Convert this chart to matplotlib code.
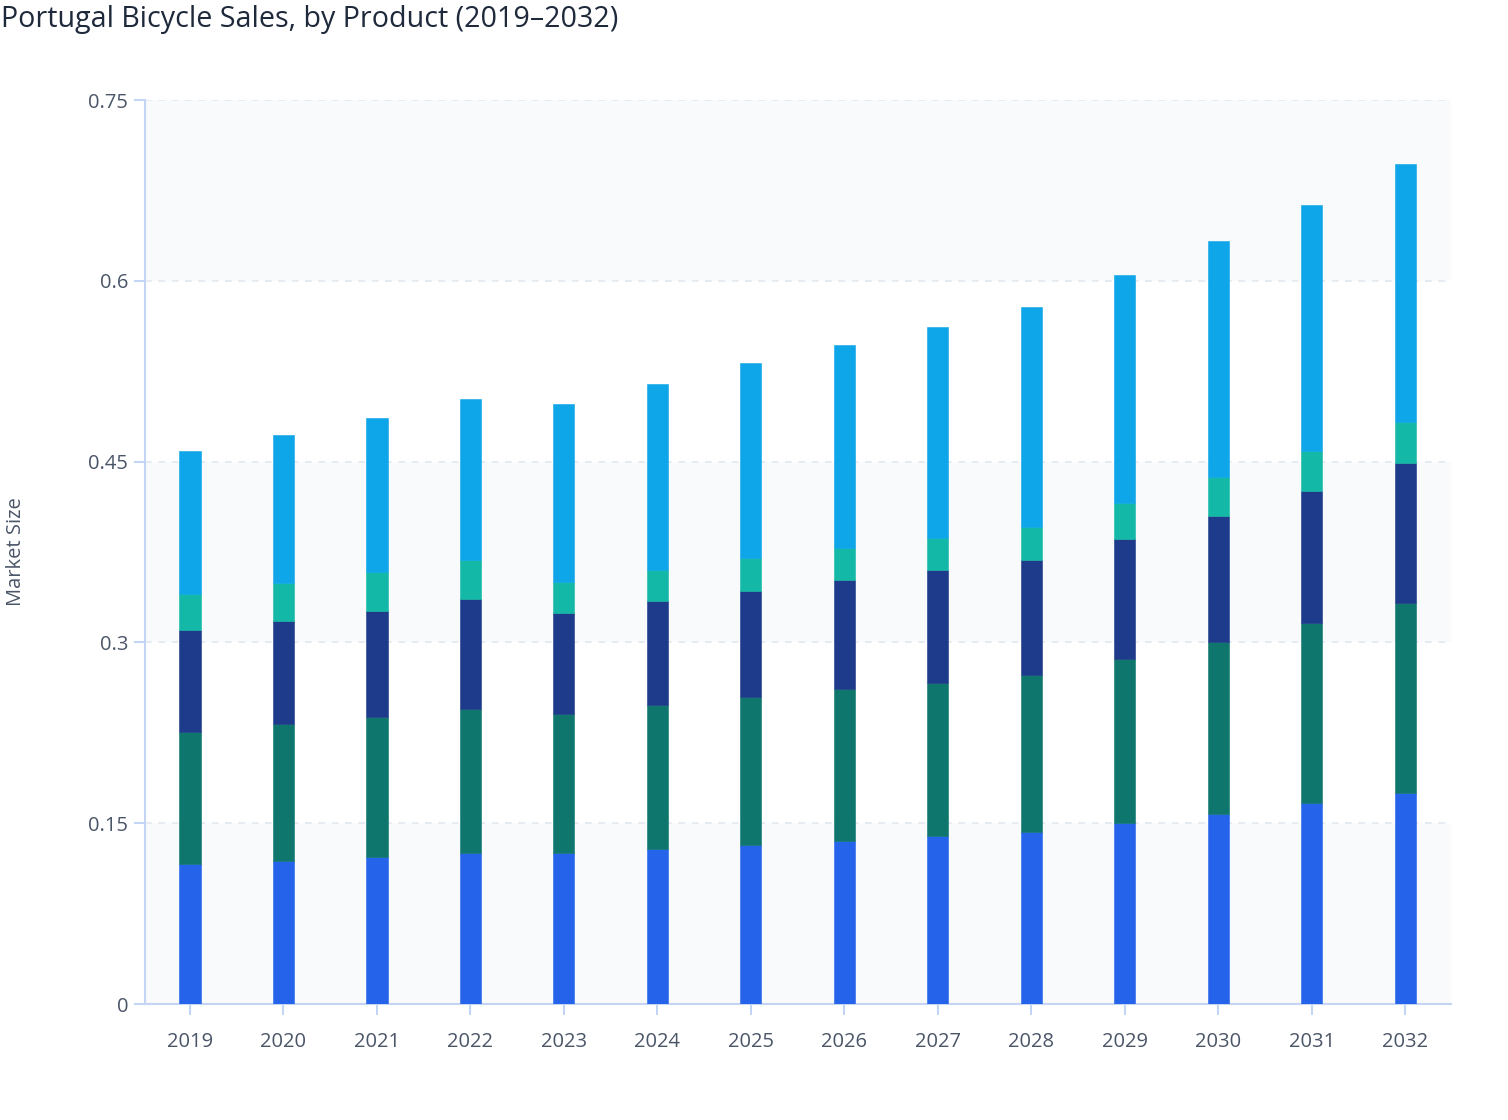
import matplotlib
matplotlib.use("Agg")
import matplotlib.pyplot as plt
import numpy as np

years = ["2019", "2020", "2021", "2022", "2023", "2024", "2025", "2026",
         "2027", "2028", "2029", "2030", "2031", "2032"]

# segment sizes (bottom to top)
seg1 = [0.116, 0.119, 0.122, 0.125, 0.125, 0.129, 0.132, 0.135, 0.139, 0.143, 0.150, 0.158, 0.167, 0.175]
seg2 = [0.110, 0.113, 0.116, 0.120, 0.116, 0.119, 0.123, 0.126, 0.127, 0.130, 0.136, 0.142, 0.149, 0.158]
seg3 = [0.084, 0.086, 0.088, 0.091, 0.083, 0.086, 0.088, 0.091, 0.094, 0.095, 0.100, 0.105, 0.110, 0.116]
seg4 = [0.030, 0.031, 0.032, 0.032, 0.026, 0.026, 0.027, 0.026, 0.027, 0.028, 0.030, 0.032, 0.033, 0.034]
seg5 = [0.119, 0.123, 0.128, 0.134, 0.148, 0.154, 0.162, 0.169, 0.175, 0.182, 0.189, 0.196, 0.204, 0.214]

series = [seg1, seg2, seg3, seg4, seg5]
colors = ["#2563EB", "#0F766E", "#1E3A8A", "#14B8A6", "#0EA5E9"]

yticks = [0, 0.15, 0.3, 0.45, 0.6, 0.75]
ytick_labels = ["0", "0.15", "0.3", "0.45", "0.6", "0.75"]

plt.rcParams['font.family'] = ['Open Sans', 'Noto Sans', 'DejaVu Sans']

fig = plt.figure(figsize=(15.08, 11.2), dpi=100)
ax = fig.add_axes([145/1508, 1 - 1004/1120, (1451 - 145)/1508, (1004 - 100)/1120])

x = np.arange(len(years))
ax.set_xlim(-0.48, 13.49)
ax.set_ylim(0, 0.75)

# alternating bands
for i in range(len(yticks) - 1):
    if i % 2 == 0:
        ax.axhspan(yticks[i], yticks[i + 1], color="#F8FAFC", zorder=0, lw=0)

for yv in yticks[1:]:
    ax.axhline(yv, color="#E2E8F0", lw=1.2, ls=(0, (4, 4)), zorder=1)

bottom = np.zeros(len(years))
for vals, c in zip(series, colors):
    v = np.array(vals)
    ax.bar(x, v, bottom=bottom, width=0.228, color=c, zorder=3,
           edgecolor=c, linewidth=0.4)
    bottom += v

axis_color = "#C3D5F2"
for s in ["top", "right"]:
    ax.spines[s].set_visible(False)
for s in ["left", "bottom"]:
    ax.spines[s].set_color(axis_color)
    ax.spines[s].set_linewidth(1.5)

ax.set_yticks(yticks)
ax.set_yticklabels(ytick_labels)
ax.set_xticks(x)
ax.set_xticklabels(years)
ax.tick_params(axis="both", colors=axis_color, labelcolor="#4A5568",
               labelsize=14.5, length=8, width=1.5)
ax.tick_params(axis="x", pad=12)
ax.tick_params(axis="y", pad=4)

fig.text(16/1508, 1 - 552/1120, "Market Size", rotation=90, ha="center", va="center",
         fontsize=14.5, color="#4A5568")

fig.text(1/1508, 1 - 19/1120, "Portugal Bicycle Sales, by Product (2019\u20132032)",
         ha="left", va="center", fontsize=20.6, color="#1E293B", fontweight="medium")

fig.savefig("out.png", dpi=100, facecolor="white")
